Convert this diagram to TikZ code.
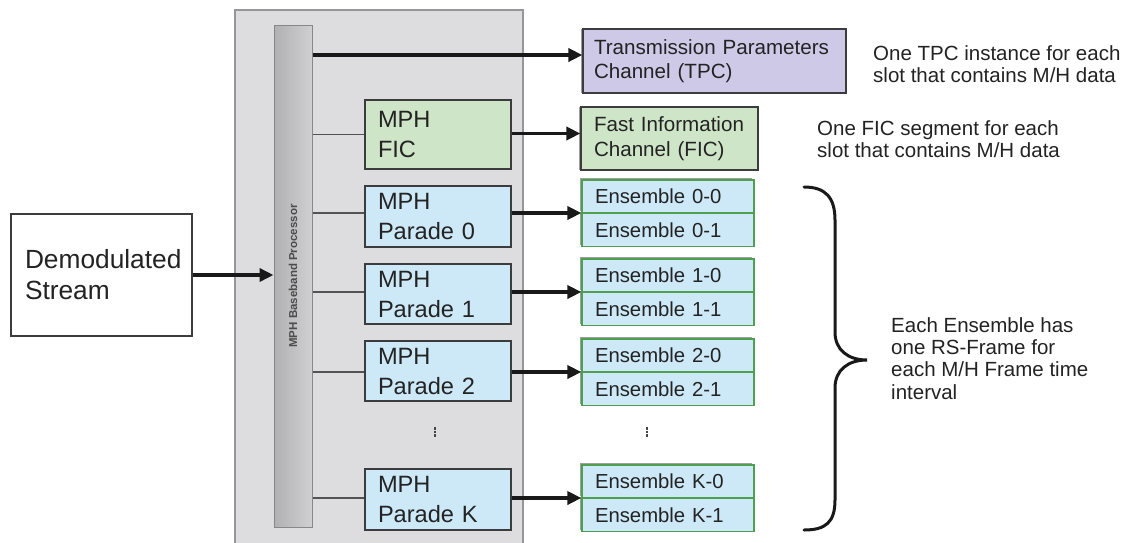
\documentclass[tikz,border=0pt]{standalone}
\usepackage{fontspec}
\setmainfont{Liberation Sans}
\usetikzlibrary{arrows.meta,shadows}

\definecolor{panelgray}{RGB}{221,221,223}
\definecolor{paneledge}{RGB}{150,150,152}
\definecolor{barfill}{RGB}{196,196,198}
\definecolor{baredge}{RGB}{135,135,137}
\definecolor{paradeblue}{RGB}{205,233,248}
\definecolor{ficgreen}{RGB}{206,229,199}
\definecolor{tpcpurple}{RGB}{205,201,231}
\definecolor{ensedge}{RGB}{78,160,78}
\definecolor{inktext}{RGB}{35,35,35}
\definecolor{boxedge}{RGB}{60,60,62}

\begin{document}
\begin{tikzpicture}[x=1pt,y=-1pt,
  every node/.style={text=inktext},
  txtbox/.style={draw=boxedge, line width=1.2pt, rectangle, align=left,
    inner ysep=0pt},
  demodbox/.style={txtbox, fill=white, inner xsep=14pt, text width=153pt,
    minimum height=122pt, font=\fontsize{26.3}{31}\selectfont},
  mphbox/.style={txtbox, inner xsep=13pt, text width=120pt,
    font=\fontsize{23.6}{30}\selectfont},
  chanbox/.style={txtbox, font=\fontsize{20.6}{24.5}\selectfont,
    drop shadow={shadow xshift=-2pt, shadow yshift=0pt, fill=gray!75, opacity=1}},
  ensbox/.style={draw=ensedge, line width=1.2pt, rectangle, fill=paradeblue,
    align=left, inner xsep=13pt, inner ysep=0pt, text width=146pt,
    minimum height=32.5pt, font=\fontsize{20.3}{22}\selectfont,
    drop shadow={shadow xshift=-2pt, shadow yshift=1.5pt, fill=gray!75, opacity=1}},
  note/.style={align=left, inner sep=0pt, anchor=west,
    font=\fontsize{20.5}{22.3}\selectfont},
  feed/.style={draw=gray!65!black, line width=1.1pt},
  flow/.style={draw=black!90, line width=3.6pt,
    -{Triangle[length=14pt,width=13pt]}},
  gapdots/.style={draw=gray!55!black, line width=2pt, dash pattern=on 2.5pt off 1.2pt},
  bracepath/.style={draw=black!90, line width=3pt, line cap=round}
]
\useasboundingbox (0,0) rectangle (1128,542);
\fill[white] (0,0) rectangle (1128,542);

% processor panel and baseband bar
\filldraw[fill=panelgray, draw=paneledge, line width=1.2pt] (235,10) rectangle (523,546);
\node[draw=baredge, line width=1pt, left color=barfill!90!black, right color=barfill!80!white,
  minimum width=38pt, minimum height=502pt, inner sep=0pt] (bar) at (293,276) {};
\node[rotate=90, text=black!70, font=\bfseries\fontsize{11.5}{13}\selectfont]
  (barlabel) at (bar.center) {MPH Baseband Processor};

% input
\node[demodbox] (demod) at (101.5,275) {Demodulated\\Stream};

% channel boxes on the right
\node[chanbox, fill=tpcpurple, inner xsep=11pt, text width=241pt, minimum height=64pt]
  (tpc) at (714.5,61) {Transmission Parameters\\Channel (TPC)};
\node[chanbox, fill=ficgreen, inner xsep=13pt, text width=151pt, minimum height=63pt]
  (fic) at (669.5,138.5) {Fast Information\\Channel (FIC)};

% MPH processing blocks
\node[mphbox, fill=ficgreen, minimum height=69pt] (mphfic) at (438,134.5) {MPH\\FIC};
\node[mphbox, fill=paradeblue, minimum height=61pt] (p0) at (438,216.5) {MPH\\Parade 0};
\node[mphbox, fill=paradeblue, minimum height=60pt] (p1) at (438,294) {MPH\\Parade 1};
\node[mphbox, fill=paradeblue, minimum height=60pt] (p2) at (438,371) {MPH\\Parade 2};
\node[mphbox, fill=paradeblue, minimum height=61pt] (pk) at (438,499.5) {MPH\\Parade K};

% ensemble pairs (lower box first so the upper one's shadow stays clear)
\node[ensbox, anchor=north] (e01) at (668,213) {Ensemble 0-1};
\node[ensbox, anchor=south] (e00) at (668,213) {Ensemble 0-0};
\node[ensbox, anchor=north] (e11) at (668,292) {Ensemble 1-1};
\node[ensbox, anchor=south] (e10) at (668,292) {Ensemble 1-0};
\node[ensbox, anchor=north] (e21) at (668,372) {Ensemble 2-1};
\node[ensbox, anchor=south] (e20) at (668,372) {Ensemble 2-0};
\node[ensbox, anchor=north] (ek1) at (668,498) {Ensemble K-1};
\node[ensbox, anchor=south] (ek0) at (668,498) {Ensemble K-0};

% elided rows
\coordinate (midgap) at (435,427);
\coordinate (ensgap) at (647,427);
\draw[gapdots] (midgap) -- ++(0,11);
\draw[gapdots] (ensgap) -- ++(0,11);

% connectors
\draw[flow] (demod.east) -- (demod.east -| bar.west);
\draw[flow] ([yshift=6pt]tpc.west -| bar.east) -- ([yshift=6pt]tpc.west);
\draw[feed] (mphfic.west -| bar.east) -- (mphfic.west);
\draw[flow] ([yshift=1pt]mphfic.east) -- ([yshift=1pt]mphfic.east -| fic.west);
\foreach \p/\e in {p0/e00, p1/e10, p2/e20, pk/ek0} {
  \draw[feed] (\e.south -| bar.east) -- (\e.south -| \p.west);
  \draw[flow] (\e.south -| \p.east) -- (\e.south west);
}

% notes
\node[note] (tpcnote) at (873,64) {One TPC instance for each\\slot that contains M/H data};
\node[note] (ficnote) at (817,139) {One FIC segment for each\\slot that contains M/H data};
\node[note] (ensnote) at (891,358.5) {Each Ensemble has\\one RS-Frame for\\each M/H Frame time\\interval};

% grouping brace
\draw[bracepath] (804,187) .. controls (826,187) and (835,198) .. (835,220)
  -- (835,332) .. controls (835,350) and (848,360) .. (867,360)
  .. controls (848,360) and (835,370) .. (835,388)
  -- (835,500) .. controls (835,522) and (826,530) .. (804,530);
\end{tikzpicture}
\end{document}
